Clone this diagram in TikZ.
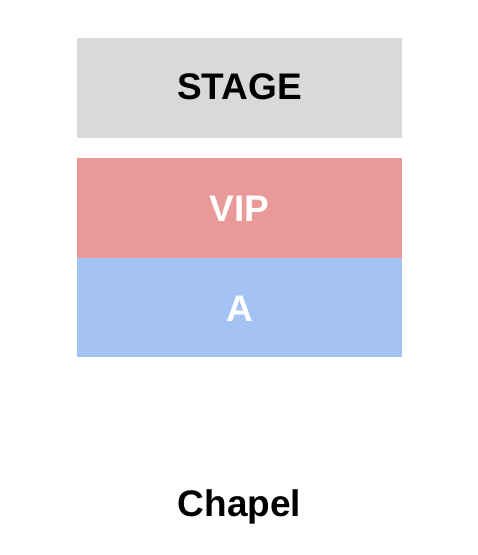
\documentclass[tikz,border=0pt]{standalone}
\usepackage{fontspec}
\setmainfont{Liberation Sans}
\definecolor{stagegray}{HTML}{D9D9D9}
\definecolor{vipred}{HTML}{EA9999}
\definecolor{ablue}{HTML}{A4C2F4}
\begin{document}
\begin{tikzpicture}[x=1pt,y=1pt,
  sect/.style={draw=none,minimum width=325pt,inner sep=0pt},
  lbl/.style={anchor=base,inner sep=0pt,font=\fontsize{37}{40}\selectfont\bfseries}]
\useasboundingbox (0,0) rectangle (478,555);
\node[sect,fill=stagegray,minimum height=100pt] (stage) at (239.5,555-88) {};
\node[sect,fill=vipred,minimum height=100pt] (vip) at (239.5,555-208) {};
\node[sect,fill=ablue,minimum height=99pt] (a) at (239.5,555-307.5) {};
\node[lbl,text=black] (stagelbl) at (239.5,555-99.5) {STAGE};
\node[lbl,text=white] (viplbl) at (239.5,555-222) {VIP};
\node[lbl,text=white] (albl) at (239.5,555-322) {A};
\node[lbl,text=black] (chapel) at (239.5,555-517) {Chapel};
\end{tikzpicture}
\end{document}
